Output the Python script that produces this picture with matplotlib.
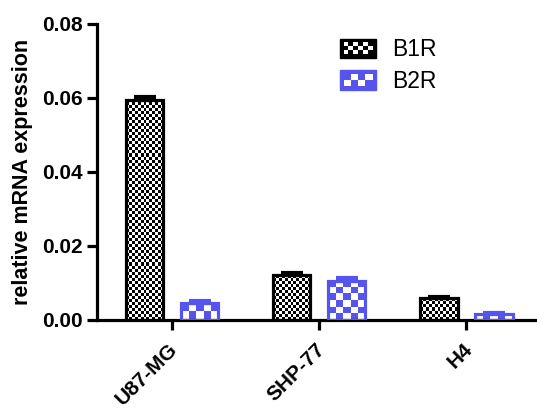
import numpy as np
import matplotlib
matplotlib.use('Agg')
import matplotlib.pyplot as plt
import matplotlib.transforms as mtransforms
from matplotlib.patches import Rectangle
from matplotlib.legend_handler import HandlerBase

plt.rcParams['font.family'] = ['Liberation Sans', 'DejaVu Sans']

cell_lines = ['U87-MG', 'SHP-77', 'H4']
b1r_mean = [0.0595, 0.0121, 0.0059]
b1r_err = [0.0009, 0.0007, 0.0004]
b2r_mean = [0.0047, 0.0106, 0.0016]
b2r_err = [0.0003, 0.0008, 0.0002]
series_names = ['B1R', 'B2R']

black = '#000000'
blue = '#5555ee'


def fill_checker(ax, bars, color, cell_px):
    # paint a checkerboard inside each bar, clipped to the bar outline
    for bar in bars:
        x, y = bar.get_x(), bar.get_y()
        w, h = bar.get_width(), bar.get_height()
        (px0, py0), (px1, py1) = ax.transData.transform([(x, y), (x + w, y + h)])
        nx = max(1, int(round((px1 - px0) / cell_px)))
        ny = max(1, int(round((py1 - py0) / cell_px)))
        ii, jj = np.meshgrid(np.arange(nx), np.arange(ny))
        mask = (ii + jj) % 2
        rgb = np.array(matplotlib.colors.to_rgb(color))
        img = np.ones((ny, nx, 3))
        img[mask == 1] = rgb
        im = ax.imshow(img, extent=[x, x + w, y, y + h], aspect='auto',
                       interpolation='nearest', zorder=2, origin='lower')
        im.set_clip_path(bar)


class CheckerHandler(HandlerBase):
    def __init__(self, color, nx, ny):
        super().__init__()
        self.color = color
        self.nx = nx
        self.ny = ny

    def create_artists(self, legend, orig_handle, xdescent, ydescent,
                       width, height, fontsize, trans):
        arts = [Rectangle((-xdescent, -ydescent), width, height,
                          facecolor=self.color, edgecolor=self.color,
                          linewidth=1, transform=trans)]
        pad = height * 0.18
        cw = (width - 2 * pad) / self.nx
        ch = (height - 2 * pad) / self.ny
        for i in range(self.nx):
            for j in range(self.ny):
                if (i + j) % 2 == 0:
                    arts.append(Rectangle((-xdescent + pad + i * cw, -ydescent + pad + j * ch),
                                          cw, ch, facecolor='white', edgecolor='none',
                                          transform=trans))
        return arts


fig = plt.figure(figsize=(5.37, 4.08), dpi=100)
ax = fig.add_axes([0.1806, 0.2157, 0.8194, 0.7255])

x = np.arange(len(cell_lines))
offset = 0.187
width = 0.255

ax.set_xlim(-0.51, 2.48)
ax.set_ylim(0, 0.08)

bars1 = ax.bar(x - offset, b1r_mean, width, facecolor='none', edgecolor=black,
               linewidth=2.3, zorder=3)
bars2 = ax.bar(x + offset, b2r_mean, width, facecolor='none', edgecolor=blue,
               linewidth=2.3, zorder=3)

ax.errorbar(x - offset, b1r_mean, yerr=[np.zeros(3), b1r_err], fmt='none',
            ecolor=black, elinewidth=2, capsize=8, capthick=3, zorder=4)
ax.errorbar(x + offset, b2r_mean, yerr=[np.zeros(3), b2r_err], fmt='none',
            ecolor=blue, elinewidth=2, capsize=8, capthick=3, zorder=4)

fill_checker(ax, bars1, black, 3)
fill_checker(ax, bars2, blue, 7)
ax.set_xlim(-0.51, 2.48)
ax.set_ylim(0, 0.08)

for s in ['top', 'right']:
    ax.spines[s].set_visible(False)
for s in ['left', 'bottom']:
    ax.spines[s].set_linewidth(2.3)

ax.set_yticks([0, 0.02, 0.04, 0.06, 0.08])
ax.set_yticklabels(['0.00', '0.02', '0.04', '0.06', '0.08'])
ax.set_xticks(x)
ax.set_xticklabels(cell_lines, rotation=45, ha='right', rotation_mode='anchor')
ax.tick_params(axis='both', width=2.3, length=7, labelsize=15, pad=3)
ax.tick_params(axis='x', pad=6)
shift = mtransforms.ScaledTranslation(-4 / 100, -2 / 100, fig.dpi_scale_trans)
for lab in ax.get_xticklabels():
    lab.set_fontweight('bold')
    lab.set_transform(lab.get_transform() + shift)
for lab in ax.get_yticklabels():
    lab.set_fontweight('bold')

ax.set_ylabel('relative mRNA expression', fontsize=15.5, fontweight='bold', labelpad=7)

h1 = Rectangle((0, 0), 1, 1)
h2 = Rectangle((0, 0), 1, 1)
leg = ax.legend([h1, h2], series_names, loc='upper left',
                bbox_to_anchor=(331 / 537, 1 - 29 / 408), bbox_transform=fig.transFigure,
                borderaxespad=0, frameon=False, fontsize=16.5,
                handlelength=1.57, handleheight=0.92,
                handletextpad=0.7, labelspacing=0.38,
                handler_map={h1: CheckerHandler(black, 6, 3), h2: CheckerHandler(blue, 4, 2)})

fig.savefig('out.png', dpi=100)
